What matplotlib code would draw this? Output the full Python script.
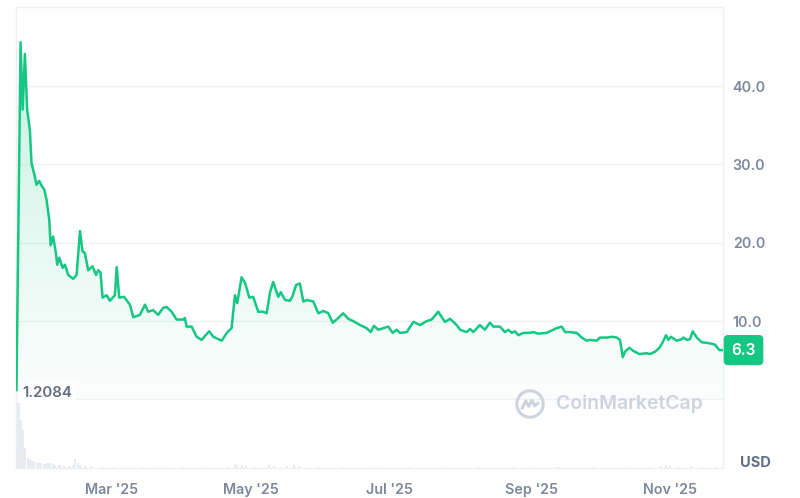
"""Price chart in the CoinMarketCap style"""

import matplotlib
matplotlib.use("Agg")
import matplotlib.pyplot as plt
import matplotlib.dates as mdates
import matplotlib.transforms as mtransforms
from matplotlib.patches import Circle
import numpy as np
import pandas as pd

# days counted from 2025-01-01, price in USD
price_day = [17.1, 18.9, 19.8, 20.8, 21.8, 23.0, 23.7, 25.2, 25.9, 27.1, 28.1, 29.3, 30.3,
             31.5, 32.1, 33.2, 34.4, 35.0, 35.9, 37.4, 38.4, 39.8, 42.0, 43.5, 45.0, 46.1,
             47.1, 48.6, 50.5, 52.0, 53.0, 54.0, 54.9, 56.7, 58.1, 60.3, 61.1, 62.2, 64.3,
             66.9, 68.4, 71.3, 73.5, 74.9, 77.1, 79.3, 81.5, 83.0, 85.2, 87.4, 90.3, 91.0,
             91.8, 94.0, 96.2, 98.4, 99.8, 101.7, 103.5, 107.2, 109.4, 111.5, 113.0, 114.0,
             115.9, 117.4, 119.3, 121.0, 123.2, 125.4, 126.9, 128.4, 129.8, 132.0, 133.1,
             135.0, 137.1, 138.3, 139.8, 141.5, 143.0, 144.5, 147.4, 149.6, 151.8, 154.0,
             155.9, 157.6, 160.5, 162.7, 164.9, 167.9, 170.8, 172.6, 174.0, 175.9, 180.3,
             182.2, 184.0, 185.4, 188.4, 191.3, 194.2, 197.1, 199.3, 202.2, 205.2, 207.4,
             210.3, 211.8, 214.7, 216.2, 217.6, 220.5, 222.7, 224.9, 226.4, 229.3, 231.5,
             233.0, 234.5, 235.9, 237.4, 239.6, 242.5, 244.0, 246.1, 249.8, 254.2, 256.4,
             257.9, 260.1, 263.0, 265.2, 267.4, 268.8, 271.8, 273.2, 276.2, 278.4, 280.6,
             282.0, 283.2, 284.2, 286.1, 287.8, 290.5, 293.7, 295.2, 297.4, 299.3, 300.7,
             302.2, 303.2, 304.3, 306.9, 309.1, 309.8, 311.5, 312.7, 313.9, 315.7, 317.9,
             320.8, 323.7, 325.6, 327.1]
price = [1.21, 45.6, 37.0, 44.1, 37.0, 34.4, 30.2, 28.4, 27.4, 27.9, 27.3, 26.8, 25.5,
         22.9, 19.7, 20.8, 18.7, 17.2, 18.1, 16.8, 17.2, 15.9, 15.4, 15.9, 21.5, 18.9,
         18.7, 16.5, 17.0, 15.9, 16.5, 16.2, 13.0, 13.3, 12.6, 13.3, 16.9, 13.0, 13.1,
         12.1, 10.5, 10.8, 12.1, 11.2, 11.4, 10.8, 11.7, 11.8, 11.2, 10.2, 10.2, 10.4,
         9.3, 9.3, 8.0, 7.6, 8.1, 8.7, 8.0, 7.5, 8.5, 9.1, 13.3, 12.3,
         15.6, 14.9, 13.0, 13.1, 11.2, 11.2, 11.0, 13.7, 15.0, 13.1, 13.7,
         12.7, 12.6, 13.2, 14.6, 14.8, 12.5, 12.7, 12.5, 11.0, 11.3, 11.0,
         9.8, 10.2, 11.0, 10.3, 10.0, 9.5, 9.1, 8.6, 9.4, 8.9, 9.3,
         8.5, 8.9, 8.5, 8.6, 9.9, 9.5, 10.0, 10.2, 11.2, 9.9, 10.3,
         9.5, 8.9, 8.6, 9.0, 8.6, 9.5, 8.9, 9.8, 9.3, 9.3, 8.6,
         8.9, 8.5, 8.7, 8.2, 8.5, 8.5, 8.6, 8.4, 8.5, 9.1, 9.3,
         8.6, 8.6, 8.5, 7.9, 7.5, 7.6, 7.5, 7.9, 7.9, 8.0, 7.9,
         7.6, 5.4, 6.1, 6.6, 6.2, 5.8, 5.9, 5.8, 6.1, 6.6, 7.3,
         8.2, 7.6, 8.0, 7.5, 7.7, 7.9, 7.6, 7.7, 8.7, 7.9, 7.3,
         7.2, 7.0, 6.3, 6.3]

# trading volume (relative units)
volume_day = [17, 18, 19, 20, 21, 22, 23, 24, 25, 26, 27, 28, 29, 30, 31, 32, 33, 34, 36,
              38, 40, 42, 43, 44, 45, 47, 50, 55, 60, 66, 72, 80, 90, 100, 110, 113, 114,
              116, 118, 122, 128, 130, 136, 139, 141, 150, 160, 175, 190, 205, 220, 235,
              243, 255, 270, 285, 295, 300, 302, 304, 308, 313, 318, 324]
volume = [18, 65, 48, 38, 20, 10, 8, 7, 7, 6, 5, 5, 4, 4, 5, 5, 4, 3, 3,
          2, 2, 3, 9, 5, 3, 2, 2, 1.5, 1.5, 1, 1, 1, 1, 1, 1, 4, 3,
          3, 2, 1.5, 3, 2, 2, 3, 2, 1, 1, 1, 1, 1, 1, 1,
          1.5, 1, 1, 1, 1, 2, 3, 2, 1.5, 2, 1, 1]

month_ticks = ["2025-03-01", "2025-05-01", "2025-07-01", "2025-09-01", "2025-11-01"]
price_ticks = [10, 20, 30, 40]
low_label = "1.2084"
last_label = "6.3"

GREEN = "#16c784"
GRID = "#eff2f5"
TEXT = "#7d889c"

plt.rcParams["font.family"] = ["Inter", "DejaVu Sans"]

origin = pd.Timestamp("2025-01-01")
dates = pd.to_datetime(price_day, unit="D", origin=origin)
vdates = pd.to_datetime(volume_day, unit="D", origin=origin)
x = mdates.date2num(dates)
vx = mdates.date2num(vdates)

fig = plt.figure(figsize=(8, 4.98), dpi=100)
W, H = 800, 498
left, right, top, bottom = 16, 723, 7, 468
ax = fig.add_axes([left / W, 1 - bottom / H, (right - left) / W, (bottom - top) / H])

xmin = mdates.date2num(origin + pd.Timedelta(days=16.9))
xmax = mdates.date2num(origin + pd.Timedelta(days=327.2))
ax.set_xlim(xmin, xmax)
ax.set_ylim(-8.75, 50.1)

# gradient area under the line
poly = ax.fill_between(x, price, 0, color="none", lw=0)
grad = np.linspace(0.0, 1.0, 256).reshape(-1, 1)
rgba = np.zeros((256, 1, 4))
rgba[..., :3] = matplotlib.colors.to_rgb(GREEN)
rgba[..., 3] = 0.02 + 0.24 * grad ** 1.2
img = ax.imshow(rgba, aspect="auto", origin="lower",
                extent=[xmin, xmax, 0, 46], zorder=1)
img.set_clip_path(poly.get_paths()[0], transform=ax.transData)

ax.plot(x, price, color=GREEN, lw=1.8, zorder=3, solid_joinstyle="round")

# grid and frame
for v in price_ticks:
    ax.axhline(v, color=GRID, lw=1, zorder=0)
ax.axhline(0, color=GRID, lw=1, zorder=0)
for s in ax.spines.values():
    s.set_color("#eceff3")
    s.set_linewidth(1)

ax.yaxis.tick_right()
ax.set_yticks(price_ticks)
ax.set_yticklabels([f"{v:.1f}" for v in price_ticks])
ax.tick_params(axis="y", length=0, pad=7, labelsize=10.3, labelcolor=TEXT)
ax.set_xticks(mdates.date2num(pd.to_datetime(month_ticks)))
ax.xaxis.set_major_formatter(mdates.DateFormatter("%b '%y"))
ax.tick_params(axis="x", length=0, pad=11, labelsize=10.3, labelcolor=TEXT)
for lab in ax.get_xticklabels() + ax.get_yticklabels():
    lab.set_fontweight("semibold")

# low marker label
ax.text(xmin + 2.7, 0.8, low_label, fontsize=10.8, color="#616e85", fontweight="semibold",
        va="center", ha="left", zorder=5,
        bbox=dict(boxstyle="square,pad=0.25", fc="white", ec="none"))

# current price tag
trans = mtransforms.blended_transform_factory(ax.transAxes, ax.transData)
ax.annotate(last_label, xy=(1.0, price[-1]), xycoords=trans,
            xytext=(6, 0), textcoords="offset points",
            fontsize=11, color="white", fontweight="semibold", va="center", ha="left",
            annotation_clip=False,
            bbox=dict(boxstyle="round,pad=0.5,rounding_size=0.3", fc=GREEN, ec="none"))

# volume panel
axv = fig.add_axes([left / W, 1 - bottom / H, (right - left) / W, 66 / H])
axv.set_xlim(xmin, xmax)
axv.set_ylim(0, 66)
axv.bar(vx, volume, width=0.9, color="#e8ebf1", lw=0)
axv.axis("off")
axv.patch.set_alpha(0)

fig.text(740 / W, 1 - 463 / H, "USD", fontsize=10.5, fontweight="bold",
         color="#616e85", va="center", ha="left")

# watermark
fig.text(556 / W, 1 - 404 / H, "CoinMarketCap", fontsize=14, fontweight="semibold",
         color="#cdd3df", va="center", ha="left")
axl = fig.add_axes([515 / W, 1 - 419 / H, 30 / W, 30 / H])
axl.set_xlim(0, 1)
axl.set_ylim(0, 1)
axl.axis("off")
axl.add_patch(Circle((0.5, 0.5), 0.44, fill=False, ec="#cdd3df", lw=2.2))
axl.plot([0.24, 0.36, 0.46, 0.56, 0.66, 0.76], [0.36, 0.6, 0.42, 0.62, 0.44, 0.52],
         color="#cdd3df", lw=2.2, solid_joinstyle="round")

fig.savefig("out.png", dpi=100, facecolor="white")
